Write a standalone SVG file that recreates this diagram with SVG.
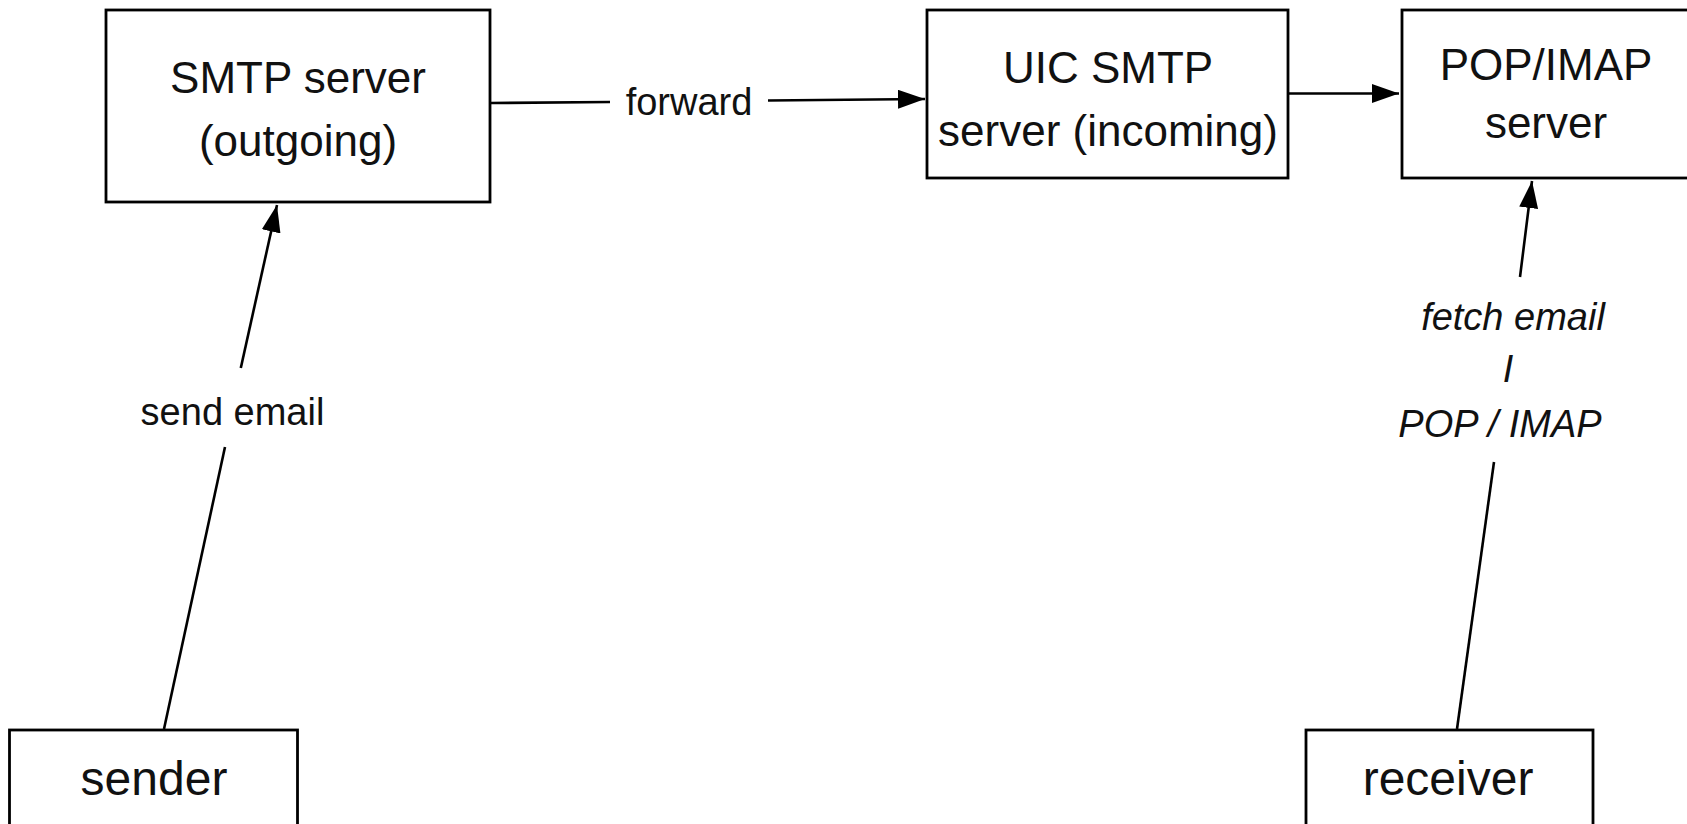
<svg xmlns="http://www.w3.org/2000/svg" width="1687" height="824" viewBox="0 0 1687 824">
  <defs>
    <marker id="arrow" markerUnits="userSpaceOnUse" markerWidth="27" markerHeight="19" refX="27" refY="9.5" orient="auto">
      <path d="M0,0 L27,9.5 L0,19 z" fill="#000"/>
    </marker>
    <style>
      .box { fill: #fff; stroke: #000; stroke-width: 2.8; }
      .edge { stroke: #000; stroke-width: 2.6; fill: none; }
      .node-text { font-family: "Liberation Sans", Arial, sans-serif; font-size: 44px; fill: #111; text-anchor: middle; }
      .end-text { font-family: "Liberation Sans", Arial, sans-serif; font-size: 48px; fill: #111; text-anchor: middle; }
      .label { font-family: "Liberation Sans", Arial, sans-serif; font-size: 38px; fill: #111; text-anchor: middle; }
      .italic { font-style: italic; }
    </style>
  </defs>
  <rect width="1687" height="824" fill="#fff"/>

  <!-- connectors -->
  <g id="connectors">
    <!-- sender -> SMTP server (outgoing) -->
    <line class="edge" x1="164" y1="729" x2="225" y2="447"/>
    <line class="edge" x1="240.8" y1="368" x2="277" y2="205" marker-end="url(#arrow)"/>
    <text class="label" x="232.5" y="425">send email</text>

    <!-- SMTP (outgoing) -> UIC SMTP (incoming) -->
    <line class="edge" x1="491" y1="103" x2="610" y2="102"/>
    <line class="edge" x1="768" y1="100.5" x2="925" y2="99" marker-end="url(#arrow)"/>
    <text class="label" x="689" y="115">forward</text>

    <!-- UIC SMTP -> POP/IMAP -->
    <line class="edge" x1="1288" y1="93.5" x2="1399" y2="93.5" marker-end="url(#arrow)"/>

    <!-- receiver -> POP/IMAP -->
    <line class="edge" x1="1457" y1="729" x2="1494" y2="462"/>
    <line class="edge" x1="1520" y1="277" x2="1532" y2="181" marker-end="url(#arrow)"/>
    <text class="label italic" x="1513" y="330">fetch email</text>
    <text class="label italic" x="1508" y="382">I</text>
    <text class="label italic" x="1500" y="437">POP / IMAP</text>
  </g>

  <g id="smtp-outgoing">
    <rect class="box" x="106" y="10" width="384" height="192"/>
    <text class="node-text" x="298" y="93">SMTP server</text>
    <text class="node-text" x="298" y="156">(outgoing)</text>
  </g>

  <g id="uic-smtp-incoming">
    <rect class="box" x="927" y="10" width="361" height="168"/>
    <text class="node-text" x="1108" y="83">UIC SMTP</text>
    <text class="node-text" x="1108" y="146">server (incoming)</text>
  </g>

  <g id="pop-imap">
    <rect class="box" x="1402" y="10" width="300" height="168"/>
    <text class="node-text" x="1546" y="80">POP/IMAP</text>
    <text class="node-text" x="1546" y="138">server</text>
  </g>

  <g id="sender">
    <rect class="box" x="9.5" y="730" width="288" height="110"/>
    <text class="end-text" x="154" y="795">sender</text>
  </g>

  <g id="receiver">
    <rect class="box" x="1306" y="730" width="287" height="110"/>
    <text class="end-text" x="1448" y="795">receiver</text>
  </g>
</svg>
